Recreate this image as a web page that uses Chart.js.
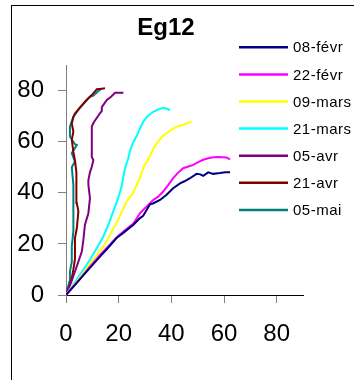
<!DOCTYPE html>
<html>
<head>
<meta charset="utf-8">
<script src="https://cdn.jsdelivr.net/npm/chart.js@4/dist/chart.umd.min.js"></script>
<style>
  html, body { margin: 0; padding: 0; background: #fff; }
</style>
</head>
<body>
<canvas id="graficaEg12" width="354" height="380"></canvas>
<script>
const titulo = 'Eg12';
const fechas = ['08-févr', '22-févr', '09-mars', '21-mars', '05-avr', '21-avr', '05-mai'];
const ticksEjes = [0, 20, 40, 60, 80];

const fev08 = [[0,0],[3,3.5],[6,7],[9,10.5],[12.9,15],[16,18.5],[19.2,22.3],[22,24.5],[25.6,27.5],[28.1,30.1],[29.3,31],[31.9,35.5],[33,35.8],[35.7,37.2],[38.2,39.2],[40.7,41.8],[43.3,43.7],[45,44.5],[47.1,45.7],[49.6,47.4],[51,47.2],[52.1,46.6],[54,48],[55.9,47.4],[58.5,47.7],[60.5,48],[62.3,48]];
const fev22 = [[0,0],[3,3.6],[6,7.2],[9,11],[12.9,15.7],[16,19],[19.2,22.5],[22,25],[25.6,28],[28.1,32],[30.5,34.5],[33.1,37.2],[35,38.5],[36.9,40.5],[38.8,43],[40.7,45.7],[42.5,47.8],[44.5,49.6],[46.5,50.3],[48.3,50.9],[50.2,52],[52.1,52.9],[54,53.5],[55.9,53.9],[57.8,54],[59.7,53.9],[61,53.8],[62.3,53.1]];
const mars09 = [[0,0],[3,4],[6.6,8.6],[10,13.5],[14.2,19],[17,24],[20,30],[23,36.6],[25.5,40],[28.1,46],[29.5,50],[31.9,54.5],[33.5,58],[35,60],[36.5,62],[38.2,63.3],[40,64.6],[42,65.9],[44.5,66.5],[46,67.3],[47.7,67.8]];
const mars21 = [[0,0],[3,4.5],[6,9],[9.1,13.8],[11.5,18],[14.2,22.9],[16.5,28.5],[18.6,34.6],[19.5,37],[21,42],[22.4,49.6],[23.5,53],[24.5,57],[25.6,60],[27,62.5],[28,65],[29.3,67.8],[31,70],[33.1,71.7],[35,72.6],[36.9,73.3],[38,73],[39.5,72.4]];
const avr05 = [[0,0],[0.3,1.4],[2,5],[3.4,9.2],[4.5,12.5],[6,17],[6.6,21.6],[7.2,27.5],[8.5,32],[9.1,37.9],[8.5,43.1],[8.5,45],[9.1,48],[9.8,50.2],[10.4,52.8],[9.8,54],[9.8,60],[9.8,65.9],[10.5,67.5],[12.9,71.1],[13.6,72],[13.6,73.5],[15.5,76.3],[17,77.5],[18.6,79.1],[21.8,79.1]];
const avr21 = [[0,0],[1,2.5],[2.2,6.6],[2.8,10],[3.4,14],[3.4,22.3],[4.1,26],[4.7,32.7],[4.1,36],[4.1,43.1],[3.8,48],[3.4,52.8],[2.8,56],[2.2,60.7],[2.8,64],[2.2,67],[2.8,69.8],[5,73],[7.8,76.3],[10,78.5],[11.7,80.5],[13.5,80.7],[14.8,80.9]];
const mai05 = [[0,0],[0.3,1.4],[1.5,6],[1.5,9.2],[2.2,13],[2.2,19],[2.8,25],[2.8,30.1],[2.8,39.8],[2.8,43.1],[2.2,50],[3.4,52.2],[2.2,55.5],[4.1,58.7],[3.4,59],[1.5,62],[1.5,65.9],[2.2,68],[3.4,71.1],[6,74],[9.1,77.6],[10.4,78],[12,79.5],[13.6,80.9]];

const series = [fev08, fev22, mars09, mars21, avr05, avr21, mai05];
const colores = ['#000080', '#FF00FF', '#FFFF00', '#00FFFF', '#800080', '#800000', '#008080'];

const extras = {
  id: 'extras',
  afterDraw(chart) {
    const ctx = chart.ctx;
    ctx.save();
    // marco
    ctx.strokeStyle = '#000';
    ctx.lineWidth = 1;
    ctx.strokeRect(11.5, 5.5, 400, 400);
    // titulo
    ctx.fillStyle = '#000';
    ctx.font = 'bold 24px "Liberation Sans"';
    ctx.textAlign = 'center';
    ctx.textBaseline = 'middle';
    ctx.fillText(titulo, 166, 28);
    // leyenda
    ctx.font = '15px "Liberation Sans"';
    ctx.textAlign = 'left';
    ctx.letterSpacing = '0.5px';
    chart.data.datasets.forEach((ds, i) => {
      const y = 47.3 + i * 27.1;
      ctx.strokeStyle = ds.borderColor;
      ctx.lineWidth = 2.5;
      ctx.beginPath();
      ctx.moveTo(239, y);
      ctx.lineTo(288, y);
      ctx.stroke();
      ctx.fillStyle = '#000';
      ctx.fillText(ds.label, 293, y + 1);
    });
    ctx.restore();
  }
};

const ejeTicks = s => { s.ticks = ticksEjes.map(v => ({ value: v })); };

new Chart(document.getElementById('graficaEg12').getContext('2d'), {
  type: 'scatter',
  data: {
    datasets: series.map((pts, i) => ({
      label: fechas[i],
      data: pts.map(p => ({ x: p[0], y: p[1] })),
      showLine: true,
      borderColor: colores[i],
      backgroundColor: colores[i],
      borderWidth: 2,
      pointRadius: 0,
      tension: 0
    }))
  },
  options: {
    responsive: false,
    animation: false,
    devicePixelRatio: 1,
    layout: { padding: { top: 65, right: 51, left: 0, bottom: 0 } },
    plugins: { legend: { display: false }, title: { display: false }, tooltip: { enabled: false } },
    scales: {
      x: {
        type: 'linear', min: 0, max: 90,
        afterBuildTicks: ejeTicks,
        afterFit: s => { s.height = 85; },
        border: { display: true, color: '#000', width: 1 },
        grid: { drawOnChartArea: false, drawTicks: true, tickLength: 8, color: '#808080' },
        ticks: { color: '#000', padding: 17, maxRotation: 0, font: { family: 'Liberation Sans', size: 24 } }
      },
      y: {
        type: 'linear', min: 0, max: 90,
        afterBuildTicks: ejeTicks,
        afterFit: s => { s.width = 66; },
        border: { display: true, color: '#808080', width: 1 },
        grid: { drawOnChartArea: false, drawTicks: true, tickLength: 8, color: '#808080' },
        ticks: { color: '#000', padding: 14, font: { family: 'Liberation Sans', size: 24 } }
      }
    }
  },
  plugins: [extras]
});
</script>
</body>
</html>
